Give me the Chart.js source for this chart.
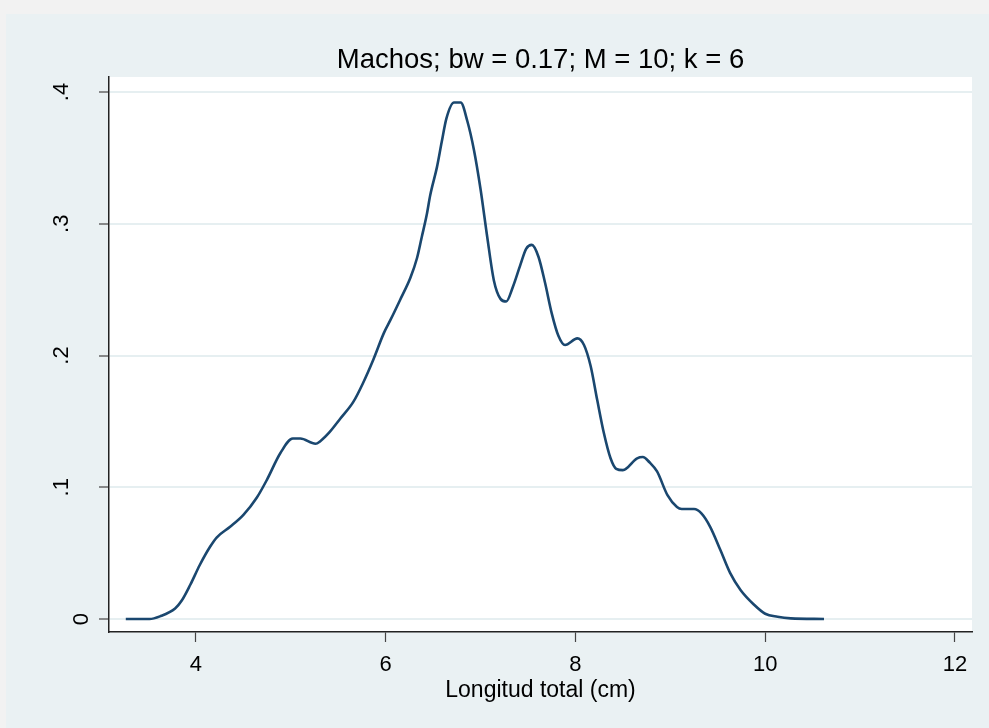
<!DOCTYPE html>
<html>
<head>
<meta charset="utf-8">
<script src="https://cdn.jsdelivr.net/npm/chart.js@4.4.1/dist/chart.umd.min.js"></script>
<style>
  html, body { margin: 0; padding: 0; background: #f2f2f2; }
  #wrap { width: 989px; height: 728px; }
</style>
</head>
<body>
<div id="wrap"><canvas id="chart" width="989" height="728"></canvas></div>
<script>
// kernel density (x = length in cm, y = density)
const lengths = [
    3.26, 3.51, 3.62, 3.78, 3.85, 3.94, 4.04, 4.15, 4.22, 4.36,
    4.50, 4.64, 4.75, 4.89, 5.02, 5.10, 5.26, 5.31, 5.41, 5.52,
    5.66, 5.76, 5.87, 5.98, 6.05, 6.15, 6.26, 6.33, 6.38, 6.43,
    6.47, 6.54, 6.59, 6.64, 6.72, 6.79, 6.86, 6.93, 7.00, 7.07,
    7.14, 7.21, 7.27, 7.34, 7.42, 7.48, 7.54, 7.61, 7.68, 7.75,
    7.82, 7.89, 8.02, 8.09, 8.16, 8.23, 8.30, 8.37, 8.43, 8.50,
    8.65, 8.71, 8.78, 8.86, 8.97, 9.07, 9.12, 9.25, 9.33, 9.42,
    9.53, 9.63, 9.74, 9.88, 10.00, 10.13, 10.27, 10.62
];
const density = [
    0, 0, 0.002, 0.008, 0.014, 0.026, 0.041, 0.055, 0.062, 0.070,
    0.079, 0.092, 0.106, 0.126, 0.137, 0.137, 0.133, 0.135, 0.142, 0.152,
    0.165, 0.179, 0.197, 0.217, 0.227, 0.242, 0.259, 0.274, 0.290, 0.306,
    0.322, 0.343, 0.362, 0.380, 0.392, 0.392, 0.378, 0.356, 0.326, 0.290,
    0.257, 0.243, 0.241, 0.252, 0.269, 0.281, 0.284, 0.275, 0.255, 0.232,
    0.215, 0.208, 0.213, 0.208, 0.192, 0.166, 0.141, 0.122, 0.114, 0.113,
    0.122, 0.123, 0.119, 0.112, 0.094, 0.085, 0.0835, 0.0835, 0.080, 0.070,
    0.052, 0.035, 0.022, 0.011, 0.004, 0.0017, 0.0005, 0
];
const xTicks = [4, 6, 8, 10, 12];
const yTicks = [0, 0.1, 0.2, 0.3, 0.4];
const yTickLabels = ['0', '.1', '.2', '.3', '.4'];
const titleText = 'Machos; bw = 0.17; M = 10; k = 6';
const xTitle = 'Longitud total (cm)';

const FONT = '"Liberation Sans", Arial, sans-serif';

// grey page, bluish graph region, white plot region
const backdrop = {
    id: 'backdrop',
    beforeDraw(chart) {
        const {ctx, width, height, chartArea: a} = chart;
        ctx.save();
        ctx.fillStyle = '#f2f2f2';
        ctx.fillRect(0, 0, width, height);
        ctx.fillStyle = '#eaf1f3';
        ctx.fillRect(6, 14, width - 6, height - 14);
        ctx.fillStyle = '#ffffff';
        ctx.fillRect(a.left, a.top, a.right - a.left, a.bottom - a.top);
        ctx.restore();
    }
};

// stata style vertical y labels (the "0" sits further in than the others)
const yLabels = {
    id: 'yLabels',
    afterDraw(chart) {
        const {ctx} = chart;
        const scale = chart.scales.y;
        ctx.save();
        ctx.font = '22px ' + FONT;
        ctx.fillStyle = '#000';
        ctx.textAlign = 'center';
        ctx.textBaseline = 'alphabetic';
        yTicks.forEach((v, i) => {
            const base = v === 0 ? 88 : 68;
            ctx.save();
            ctx.translate(base, scale.getPixelForValue(v));
            ctx.rotate(-Math.PI / 2);
            ctx.fillText(yTickLabels[i], 0, 0);
            ctx.restore();
        });
        ctx.restore();
    }
};

new Chart(document.getElementById('chart'), {
    type: 'line',
    data: {
        datasets: [{
            data: lengths.map((x, i) => ({x: x, y: density[i]})),
            borderColor: '#1a476f',
            borderWidth: 2.6,
            pointRadius: 0,
            cubicInterpolationMode: 'monotone',
            fill: false
        }]
    },
    options: {
        responsive: false,
        animation: false,
        layout: {
            padding: {top: 44, right: 17, bottom: 0, left: 0}
        },
        scales: {
            x: {
                type: 'linear',
                min: 3.083,
                max: 12.18,
                afterBuildTicks: s => { s.ticks = xTicks.map(v => ({value: v})); },
                afterFit: s => { s.height = 96; },
                grid: {
                    drawOnChartArea: false,
                    drawTicks: true,
                    tickLength: 10,
                    tickColor: '#444',
                    tickWidth: 1.2
                },
                border: {color: '#222', width: 1.5},
                ticks: {
                    color: '#000',
                    font: {family: FONT, size: 22},
                    padding: 10,
                    maxRotation: 0,
                    callback: v => String(v)
                },
                title: {
                    display: true,
                    text: xTitle,
                    color: '#000',
                    font: {family: FONT, size: 23},
                    padding: {top: 0, bottom: 24}
                }
            },
            y: {
                min: -0.00985,
                max: 0.4114,
                afterBuildTicks: s => { s.ticks = yTicks.map(v => ({value: v})); },
                afterFit: s => { s.width = 109; },
                grid: {
                    color: '#e6eff1',
                    lineWidth: 2,
                    drawTicks: true,
                    tickLength: 10,
                    tickColor: '#444',
                    tickWidth: 1.2
                },
                border: {color: '#222', width: 1.5},
                ticks: {display: false}
            }
        },
        plugins: {
            legend: {display: false},
            tooltip: {enabled: false},
            title: {
                display: true,
                text: titleText,
                fullSize: false,
                color: '#000',
                font: {family: FONT, size: 27.5, weight: 'normal'},
                padding: 0
            }
        }
    },
    plugins: [backdrop, yLabels]
});
</script>
</body>
</html>
